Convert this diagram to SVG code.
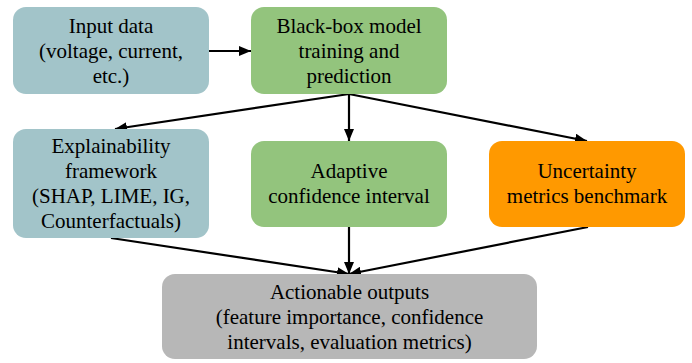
<svg xmlns="http://www.w3.org/2000/svg" width="692" height="363" viewBox="0 0 692 363">
  <style>
    .box { stroke: none; }
    .blue { fill: #a2c4c9; }
    .green { fill: #93c47d; }
    .orange { fill: #ff9900; }
    .grey { fill: #b7b7b7; }
    .label { font-family: 'Liberation Serif', 'Times New Roman', Times, 'DejaVu Serif', serif; font-size: 21px; fill: #000; text-anchor: middle; }
    .edge { stroke: #000; stroke-width: 2.2; fill: none; marker-end: url(#arrow); }
  </style>
  <defs>
    <marker id="arrow" viewBox="0 0 12 10" refX="12" refY="5" markerWidth="12" markerHeight="10" markerUnits="userSpaceOnUse" orient="auto">
      <path d="M0,0 L12,5 L0,10 z" fill="#000"/>
    </marker>
  </defs>
  <rect width="692" height="363" fill="#fff"/>

  <g id="connectors">
    <line class="edge" x1="209" y1="51" x2="251" y2="51"/>
    <line class="edge" x1="349" y1="94" x2="115" y2="129"/>
    <line class="edge" x1="349" y1="94" x2="349" y2="141"/>
    <line class="edge" x1="349" y1="94" x2="587" y2="141"/>
    <line class="edge" x1="111" y1="238" x2="349" y2="274"/>
    <line class="edge" x1="349" y1="227" x2="349" y2="274"/>
    <line class="edge" x1="588" y1="227" x2="349" y2="274"/>
  </g>

  <g id="input" class="label">
    <rect class="box blue" x="13" y="7" width="196" height="87" rx="13"/>
    <text x="111" y="33">Input data</text>
    <text x="111" y="58">(voltage, current,</text>
    <text x="111" y="83">etc.)</text>
  </g>

  <g id="model" class="label">
    <rect class="box green" x="251" y="7" width="196" height="87" rx="13"/>
    <text x="349" y="33">Black-box model</text>
    <text x="349" y="58">training and</text>
    <text x="349" y="83">prediction</text>
  </g>

  <g id="explainability" class="label">
    <rect class="box blue" x="13" y="129" width="196" height="109" rx="13"/>
    <text x="111" y="153">Explainability</text>
    <text x="111" y="178">framework</text>
    <text x="111" y="203">(SHAP, LIME, IG,</text>
    <text x="111" y="228">Counterfactuals)</text>
  </g>

  <g id="confidence" class="label">
    <rect class="box green" x="251" y="141" width="196" height="86" rx="13"/>
    <text x="349" y="178">Adaptive</text>
    <text x="349" y="203">confidence interval</text>
  </g>

  <g id="uncertainty" class="label">
    <rect class="box orange" x="489" y="141" width="196" height="86" rx="13"/>
    <text x="587" y="178">Uncertainty</text>
    <text x="587" y="203">metrics benchmark</text>
  </g>

  <g id="outputs" class="label">
    <rect class="box grey" x="162" y="274" width="375" height="85" rx="13"/>
    <text x="349.5" y="299">Actionable outputs</text>
    <text x="349.5" y="324">(feature importance, confidence</text>
    <text x="349.5" y="349">intervals, evaluation metrics)</text>
  </g>
</svg>
